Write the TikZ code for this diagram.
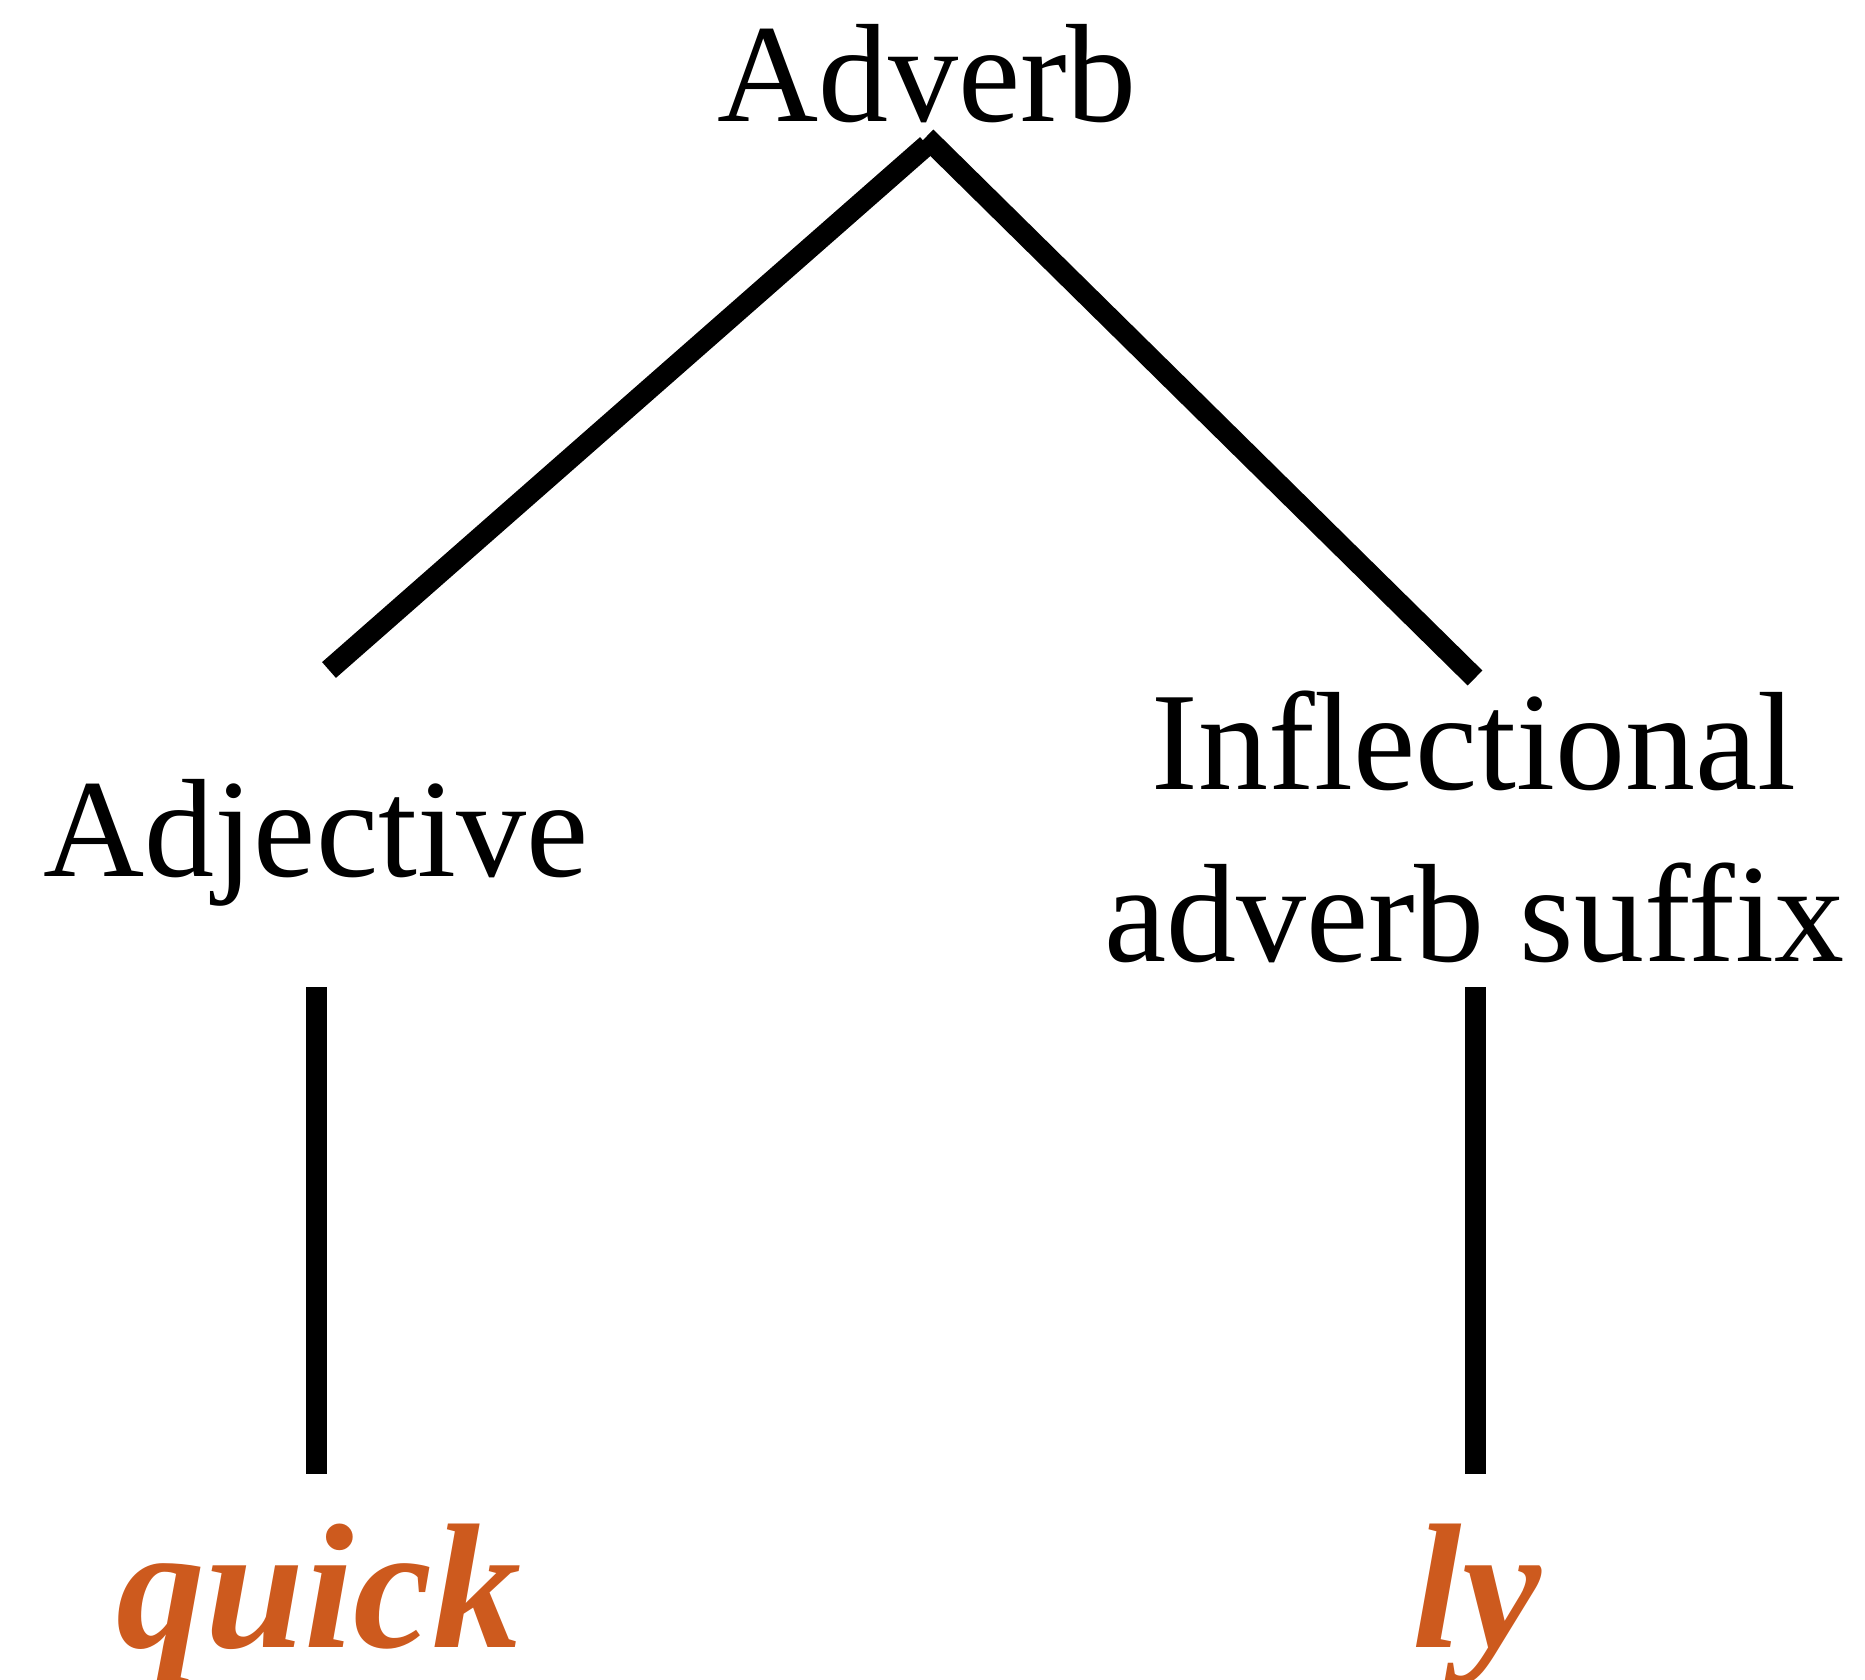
\documentclass[tikz,border=0pt]{standalone}
\usepackage{fontspec}
\setmainfont{Liberation Serif}
\definecolor{wordorange}{HTML}{CD5A1E}
\begin{document}
\begin{tikzpicture}[x=1bp,y=-1bp,
  label/.style={inner sep=0pt, outer sep=0pt, anchor=base, align=center,
    font=\fontsize{140bp}{172bp}\selectfont},
  word/.style={inner sep=0pt, outer sep=0pt, anchor=base, text=wordorange,
    font=\fontsize{178bp}{200bp}\selectfont\bfseries\itshape},
  branch/.style={line width=21bp, line cap=butt}]
  \useasboundingbox (0,0) rectangle (1865,1680);

  % category labels (a two-line label sits on the baseline of its last line)
  \node[label] (adverb) at (927,121) {Adverb};
  \node[label] (adjective) at (316,876) {Adjective};
  \node[label] (suffix) at (1474,961) {Inflectional\\adverb suffix};

  % word pieces
  \node[word] (quick) at (319,1647) {quick};
  \node[word] (ly) at (1477,1647) {ly};

  % branch end points
  \coordinate (apexL) at (927,145);
  \coordinate (apexR) at (926,137);
  \coordinate (adjTop) at (329,670);
  \coordinate (sufTop) at (1475,678);
  \coordinate (adjLow) at (316,987);
  \coordinate (quickTop) at (316,1474);
  \coordinate (sufLow) at (1475,987);
  \coordinate (lyTop) at (1475,1474);

  % tree branches
  \draw[branch] (adjTop) -- (apexL);
  \draw[branch] (apexR) -- (sufTop);
  \draw[branch] (adjLow) -- (quickTop);
  \draw[branch] (sufLow) -- (lyTop);
\end{tikzpicture}
\end{document}
